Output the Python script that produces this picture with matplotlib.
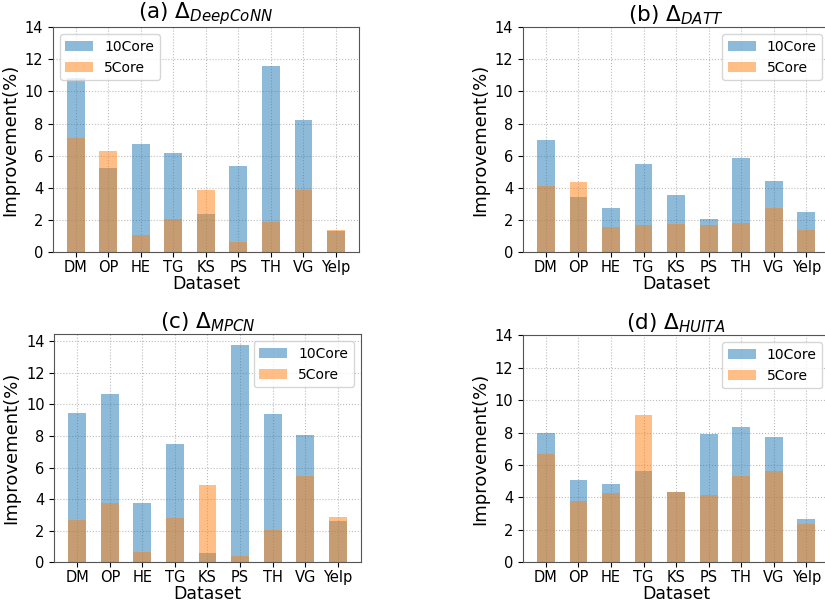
import numpy as np
from matplotlib import pyplot as plt

datasets = ['DM', 'OP', 'HE', 'TG', 'KS', 'PS', 'TH', 'VG', 'Yelp']
titles = ['(a) $\\Delta_{DeepCoNN}$', '(b) $\\Delta_{DATT}$',
          '(c) $\\Delta_{MPCN}$', '(d) $\\Delta_{HUITA}$']

# improvement (%) for 10-core and 5-core versions
deepconn_10 = [10.85, 5.23, 6.74, 6.14, 2.39, 5.35, 11.6, 8.22, 1.29]
deepconn_5 = [7.12, 6.27, 1.10, 2.05, 3.86, 0.64, 1.91, 3.90, 1.39]
datt_10 = [6.97, 3.44, 2.76, 5.50, 3.59, 2.05, 5.87, 4.40, 2.53]
datt_5 = [4.09, 4.38, 1.58, 1.72, 1.76, 1.70, 1.83, 2.76, 1.41]
mpcn_10 = [9.48, 10.68, 3.75, 7.48, 0.60, 13.77, 9.42, 8.08, 2.64]
mpcn_5 = [2.71, 3.77, 0.66, 2.81, 4.88, 0.38, 2.05, 5.48, 2.90]
huita_10 = [7.99, 5.09, 4.80, 5.66, 4.31, 7.93, 8.34, 7.74, 2.68]
huita_5 = [6.67, 3.75, 4.30, 9.10, 4.34, 4.18, 5.33, 5.66, 2.35]

series = [(deepconn_10, deepconn_5), (datt_10, datt_5),
          (mpcn_10, mpcn_5), (huita_10, huita_5)]
legend_loc = ['upper left', 'upper right', 'upper right', 'upper right']
fixed_ylim = [True, True, False, True]

fig = plt.figure(figsize=(8.25, 6.02), dpi=100)
rects = [[0.064, 0.581, 0.371, 0.374],
         [0.634, 0.581, 0.371, 0.374],
         [0.066, 0.066, 0.371, 0.379],
         [0.634, 0.066, 0.371, 0.377]]

x = np.arange(len(datasets))
for i in range(4):
    ax = fig.add_axes(rects[i])
    v10, v5 = series[i]
    ax.bar(x, v10, width=0.55, color='tab:blue', alpha=0.5, label='10Core')
    ax.bar(x, v5, width=0.55, color='tab:orange', alpha=0.5, label='5Core')
    ax.set_xticks(x)
    ax.set_xticklabels(datasets, fontsize=10.5)
    ax.tick_params(axis='y', labelsize=10.5)
    ax.tick_params(axis='x', pad=2)
    if fixed_ylim[i]:
        ax.set_ylim(0, 14)
    ax.set_yticks(np.arange(0, 15, 2))
    ax.grid(True, linestyle=':', color='#bbbbbb', linewidth=0.8)
    ax.set_axisbelow(True)
    for s in ax.spines.values():
        s.set_color('#555555')
    ax.set_xlabel('Dataset', fontsize=12.5, labelpad=0)
    ax.set_ylabel('Improvement(%)', fontsize=13)
    ax.set_title(titles[i], fontsize=15.5, pad=2)
    ax.legend(loc=legend_loc[i], fontsize=10)

plt.savefig('out.png', dpi=100)
